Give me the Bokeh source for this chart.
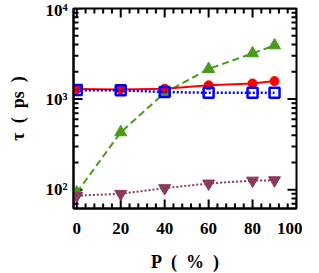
import math
from bokeh.plotting import figure
from bokeh.models import FixedTicker, Range1d
from bokeh.embed import file_html
from bokeh.resources import INLINE

P = [0, 20, 40, 60, 80, 90]
tau_red = [1290, 1280, 1300, 1420, 1490, 1580]
tau_blue = [1257, 1250, 1195, 1175, 1175, 1175]
tau_green = [93, 430, 1175, 2150, 3200, 3920]
tau_purple = [86, 90, 104, 117, 126, 127]

x_ticks = [0, 20, 40, 60, 80, 100]
y_ticks = [100, 1000, 10000]
y_tick_labels = {100: "10²", 1000: "10³", 10000: "10⁴"}
x_lim = (-1.5, 100)
y_lim = (62, 10000)

FONT = "Liberation Serif"
FW, FH = 223, 200

p = figure(frame_width=FW, frame_height=FH, output_backend="svg", toolbar_location=None,
           y_axis_type="log", x_range=Range1d(*x_lim), y_range=Range1d(*y_lim),
           min_border_left=73, min_border_right=6, min_border_top=8, min_border_bottom=10)
p.grid.visible = False
p.outline_line_color = "black"
p.outline_line_width = 2
p.background_fill_color = "white"
p.border_fill_color = "white"

x_minor = [v for v in range(0, 101, 4) if v not in x_ticks]
y_minor = [m * 10 ** e for e in (1, 2, 3) for m in range(2, 10) if y_lim[0] < m * 10 ** e < y_lim[1]]

def style(ax):
    ax.axis_line_color = "black"
    ax.axis_line_width = 2
    ax.major_tick_in = 0
    ax.major_tick_out = 0
    ax.minor_tick_in = 0
    ax.minor_tick_out = 0
    ax.major_label_text_font = FONT
    ax.major_label_text_font_style = "bold"
    ax.major_label_text_font_size = "17px"
    ax.major_label_text_color = "black"
    ax.axis_label_text_font = FONT
    ax.axis_label_text_font_style = "bold"
    ax.axis_label_text_font_size = "18px"
    ax.axis_label_text_color = "black"

xa = p.xaxis[0]
xa.ticker = FixedTicker(ticks=x_ticks)
xa.axis_label = "P\u2002(\u2002%\u2002)"
xa.major_label_standoff = 14
xa.axis_label_standoff = 15
style(xa)

ya = p.yaxis[0]
ya.ticker = FixedTicker(ticks=y_ticks)
ya.major_label_overrides = y_tick_labels
ya.axis_label = "τ\u2002(\u2002ps\u2002)"
ya.major_label_standoff = 6
ya.axis_label_standoff = 14
style(ya)

# inward ticks on all four sides, lengths converted from pixels to data units
ldec = math.log10(y_lim[1] / y_lim[0])
def ypix(px):
    return 10 ** (ldec * px / FH)
def xpix(px):
    return (x_lim[1] - x_lim[0]) * px / FW

for xs, ln in ((x_ticks, 9), (x_minor, 5)):
    p.segment(xs, [y_lim[0]] * len(xs), xs, [y_lim[0] * ypix(ln)] * len(xs), line_color="black", line_width=2)
    p.segment(xs, [y_lim[1]] * len(xs), xs, [y_lim[1] / ypix(ln)] * len(xs), line_color="black", line_width=2)
for ys, ln in ((y_ticks, 9), (y_minor, 5)):
    p.segment([x_lim[0]] * len(ys), ys, [x_lim[0] + xpix(ln)] * len(ys), ys, line_color="black", line_width=2)
    p.segment([x_lim[1]] * len(ys), ys, [x_lim[1] - xpix(ln)] * len(ys), ys, line_color="black", line_width=2)

red = "#ff0000"
blue = "#0000ff"
green = "#4a9b1c"
purple = "#8a3a5c"

p.line(P, tau_green, line_color=green, line_width=2, line_dash="7 4")
p.scatter(P, tau_green, marker="triangle", size=12, fill_color=green, line_color=green, line_width=1)

p.line(P, tau_purple, line_color=purple, line_width=2, line_dash="2 2")
p.scatter(P, tau_purple, marker="inverted_triangle", size=12, fill_color=purple, line_color=purple, line_width=1)

p.line(P, tau_red, line_color=red, line_width=2)
p.scatter(P, tau_red, marker="circle", size=9, fill_color=red, line_color=red)

p.line(P, tau_blue, line_color=blue, line_width=2.5, line_dash="2 2")
p.scatter(P, tau_blue, marker="square", size=10, fill_color=None, line_color=blue, line_width=2.5)

open("out.html", "w").write(file_html(p, INLINE))
